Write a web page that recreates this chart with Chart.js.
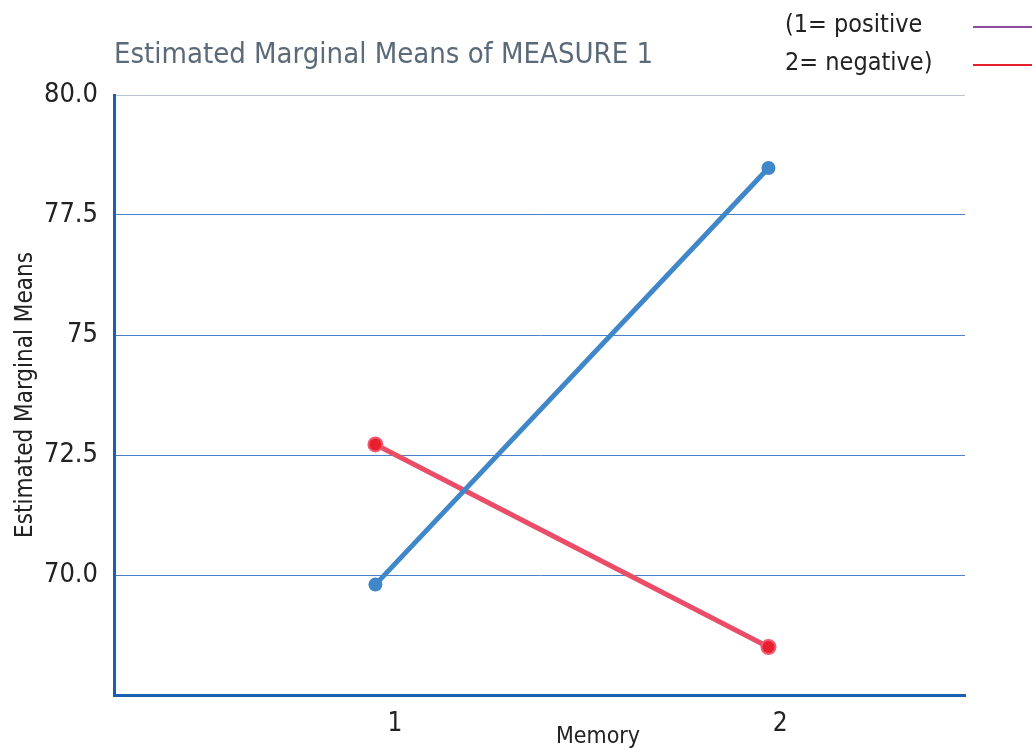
<!DOCTYPE html>
<html>
<head>
<meta charset="utf-8">
<script src="https://cdn.jsdelivr.net/npm/chart.js@4"></script>
<style>
  html, body { margin: 0; padding: 0; background: #fff; }
  #wrap { width: 1032px; height: 749px; }
</style>
</head>
<body>
<div id="wrap"><canvas id="emmChart" width="1032" height="749"></canvas></div>
<script>
  // data
  let memoryLevels = [1, 2];
  let positiveMeans = [69.8, 78.48];
  let negativeMeans = [72.72, 68.5];
  let yTickValues = [70, 72.5, 75, 77.5, 80];
  let yTickLabels = ['70.0', '72.5', '75', '77.5', '80.0'];
  let xTickPos = [1.05, 2.03];
  let xTickLabels = ['1', '2'];
  let legendLabels = ['(1= positive', '2= negative)'];
  let legendColors = ['#8e4a9e', '#e8202c'];

  const FONT = '"Liberation Sans Narrow", "DejaVu Sans Condensed", "Roboto", sans-serif';

  // titles and the little legend at the top right
  const textPlugin = {
    id: 'textPlugin',
    afterDraw(chart) {
      const c = chart.ctx;
      const area = chart.chartArea;
      c.save();
      c.textBaseline = 'middle';
      c.fillStyle = '#5a6a78';
      c.font = '29px ' + FONT;
      c.textAlign = 'left';
      c.fillText('Estimated Marginal Means of MEASURE 1', area.left, 55);

      c.fillStyle = '#222';
      c.font = '25px ' + FONT;
      legendLabels.forEach((t, i) => {
        const y = 25 + i * 38;
        c.fillText(t, 785, y);
        c.strokeStyle = legendColors[i];
        c.lineWidth = 2;
        c.beginPath();
        c.moveTo(973, y + 2);
        c.lineTo(1032, y + 2);
        c.stroke();
      });

      c.font = '23px ' + FONT;
      c.textAlign = 'center';
      c.fillText('Memory', 598, 737);

      c.font = '24px ' + FONT;
      c.translate(26, (area.top + area.bottom) / 2);
      c.rotate(-Math.PI / 2);
      c.fillText('Estimated Marginal Means', 0, 0);
      c.restore();
    }
  };

  let ctx = document.getElementById('emmChart').getContext('2d');

  let chart = new Chart(ctx, {
    type: 'line',
    data: {
      datasets: [{
        label: 'positive',
        data: memoryLevels.map((m, i) => ({ x: m, y: positiveMeans[i] })),
        borderColor: '#3f87c8',
        backgroundColor: '#3f87c8',
        borderWidth: 5,
        pointRadius: 7,
        pointBorderWidth: 0
      }, {
        label: 'negative',
        data: memoryLevels.map((m, i) => ({ x: m, y: negativeMeans[i] })),
        borderColor: '#ea4d68',
        backgroundColor: '#e8202e',
        borderWidth: 5,
        pointRadius: 7,
        pointBorderColor: '#f05a72',
        pointBorderWidth: 2
      }]
    },
    options: {
      responsive: false,
      animation: false,
      layout: { padding: { top: 95, right: 67, left: 0, bottom: 0 } },
      plugins: {
        legend: { display: false },
        tooltip: { enabled: false }
      },
      scales: {
        x: {
          type: 'linear',
          min: 0.335,
          max: 2.5,
          afterBuildTicks: axis => { axis.ticks = xTickPos.map(v => ({ value: v })); },
          afterFit: axis => { axis.height = 54; },
          grid: { display: false, drawTicks: false },
          border: { color: '#1c5fae', width: 3 },
          ticks: {
            padding: 14,
            color: '#222',
            font: { family: FONT, size: 26 },
            callback: (v, i) => xTickLabels[i]
          }
        },
        y: {
          min: 67.5,
          max: 80,
          afterBuildTicks: axis => { axis.ticks = yTickValues.map(v => ({ value: v })); },
          afterFit: axis => { axis.width = 114; },
          grid: {
            drawTicks: false,
            lineWidth: 1,
            color: c => (c.tick && c.tick.value === 80) ? '#b9c3cf' : '#4a80c8'
          },
          border: { color: '#1c5fae', width: 3 },
          ticks: {
            padding: 16,
            color: '#222',
            font: { family: FONT, size: 27 },
            callback: (v, i) => yTickLabels[i]
          }
        }
      }
    },
    plugins: [textPlugin]
  });
</script>
</body>
</html>
